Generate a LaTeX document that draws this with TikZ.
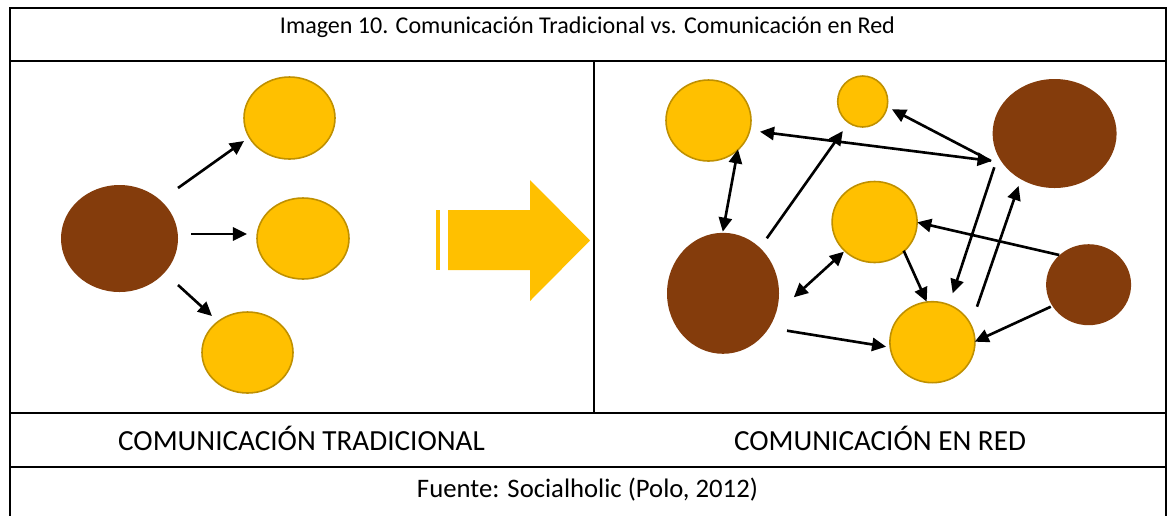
\documentclass[tikz,border=0pt]{standalone}
\usepackage{fontspec}
\setmainfont{Carlito}
\usetikzlibrary{arrows.meta,shapes.geometric}
\definecolor{gold}{HTML}{FFC000}
\definecolor{goldline}{HTML}{BF9000}
\definecolor{brownc}{HTML}{843C0C}
\begin{document}
\begin{tikzpicture}[x=0.02cm,y=-0.02cm,
  yel/.style 2 args={ellipse, draw=goldline, fill=gold, line width=0.9pt, inner sep=0pt,
     minimum width=#1*0.02cm, minimum height=#2*0.02cm},
  brn/.style 2 args={ellipse, fill=brownc, inner sep=0pt,
     minimum width=#1*0.02cm, minimum height=#2*0.02cm},
  conn/.style={line width=1.5pt, -{Triangle[length=8pt,width=7.5pt]}},
  dconn/.style={line width=1.5pt, {Triangle[length=8pt,width=7.5pt]}-{Triangle[length=8pt,width=7.5pt]}},
  border/.style={line width=1.2pt},
  lbl/.style={font=\fontsize{16.6}{19}\selectfont},
  src/.style={font=\fontsize{15.2}{18}\selectfont},
  ttl/.style={font=\fontsize{13.7}{16}\selectfont}]
\useasboundingbox (0,0) rectangle (1170,515);
\clip (0,0) rectangle (1170,515);
\fill[white] (0,0) rectangle (1170,515);
% table
\draw[border] (10,8) rectangle (1166,540);
\draw[border] (10,61) -- (1166,61);
\draw[border] (10,413) -- (1166,413);
\draw[border] (10,467) -- (1166,467);
\draw[line width=0.8pt] (594,61) -- (594,413);
% texts
\node[ttl] (title) at (587.5,27) {Imagen 10. Comunicación Tradicional vs. Comunicación en Red};
\node[lbl] (lab1) at (301.5,438) {COMUNICACIÓN TRADICIONAL};
\node[lbl] (lab2) at (880,438) {COMUNICACIÓN EN RED};
\node[src] (srcnote) at (587.5,490) {Fuente: Socialholic (Polo, 2012)};
% left panel
\node[brn={117}{107}] (tb) at (119.5,238.5) {};
\node[yel={91}{82}] (ty1) at (289.5,118) {};
\node[yel={92}{81}] (ty2) at (303,238.5) {};
\node[yel={91}{81}] (ty3) at (247.5,352.5) {};
\coordinate (l1a) at (178,188); \coordinate (l1b) at (244,141);
\coordinate (l2a) at (191,234); \coordinate (l2b) at (247,234);
\coordinate (l3a) at (178,285); \coordinate (l3b) at (212,316);
\draw[conn] (l1a) -- (l1b);
\draw[conn] (l2a) -- (l2b);
\draw[conn] (l3a) -- (l3b);
% big arrow
\fill[gold] (436,210) rectangle (440,270);
\fill[gold] (448,210) -- (530,210) -- (530,180) -- (590,240.5) -- (530,301) -- (530,270) -- (448,270) -- cycle;
% right panel
\node[yel={85}{81}] (rY1) at (708.5,120.5) {};
\node[yel={50}{51}] (rY2) at (862.7,101.5) {};
\node[brn={124}{109}] (rB1) at (1054.6,133.5) {};
\node[yel={85}{81}] (rY3) at (874.6,222) {};
\node[brn={112}{121}] (rB2) at (723,293.3) {};
\node[yel={85}{81}] (rY4) at (932.4,342.2) {};
\node[brn={85}{81}] (rB3) at (1088.6,284.7) {};
\coordinate (a1a) at (738,149.3); \coordinate (a1b) at (722.8,231.7);
\coordinate (a2a) at (766.8,238.3); \coordinate (a2b) at (842.8,131);
\coordinate (a3a) at (760,131.7); \coordinate (a3b) at (991.6,161);
\coordinate (a4a) at (991,161); \coordinate (a4b) at (891.9,109.3);
\coordinate (a5a) at (994.3,167.3); \coordinate (a5b) at (952.7,293.3);
\coordinate (a6a) at (977,306.7); \coordinate (a6b) at (1018.6,186);
\coordinate (a7a) at (1059.2,255); \coordinate (a7b) at (917.2,222.3);
\coordinate (a8a) at (903.7,250.7); \coordinate (a8b) at (926.7,301.7);
\coordinate (a9a) at (793.8,297.3); \coordinate (a9b) at (843.9,251.7);
\coordinate (a10a) at (787,330.7); \coordinate (a10b) at (886.1,346.7);
\coordinate (a11a) at (1050.8,306.7); \coordinate (a11b) at (974.7,341.7);
\draw[dconn] (a1a) -- (a1b);
\draw[conn] (a2a) -- (a2b);
\draw[dconn] (a3a) -- (a3b);
\draw[conn] (a4a) -- (a4b);
\draw[conn] (a5a) -- (a5b);
\draw[conn] (a6a) -- (a6b);
\draw[conn] (a7a) -- (a7b);
\draw[conn] (a8a) -- (a8b);
\draw[dconn] (a9a) -- (a9b);
\draw[conn] (a10a) -- (a10b);
\draw[conn] (a11a) -- (a11b);
\end{tikzpicture}
\end{document}
